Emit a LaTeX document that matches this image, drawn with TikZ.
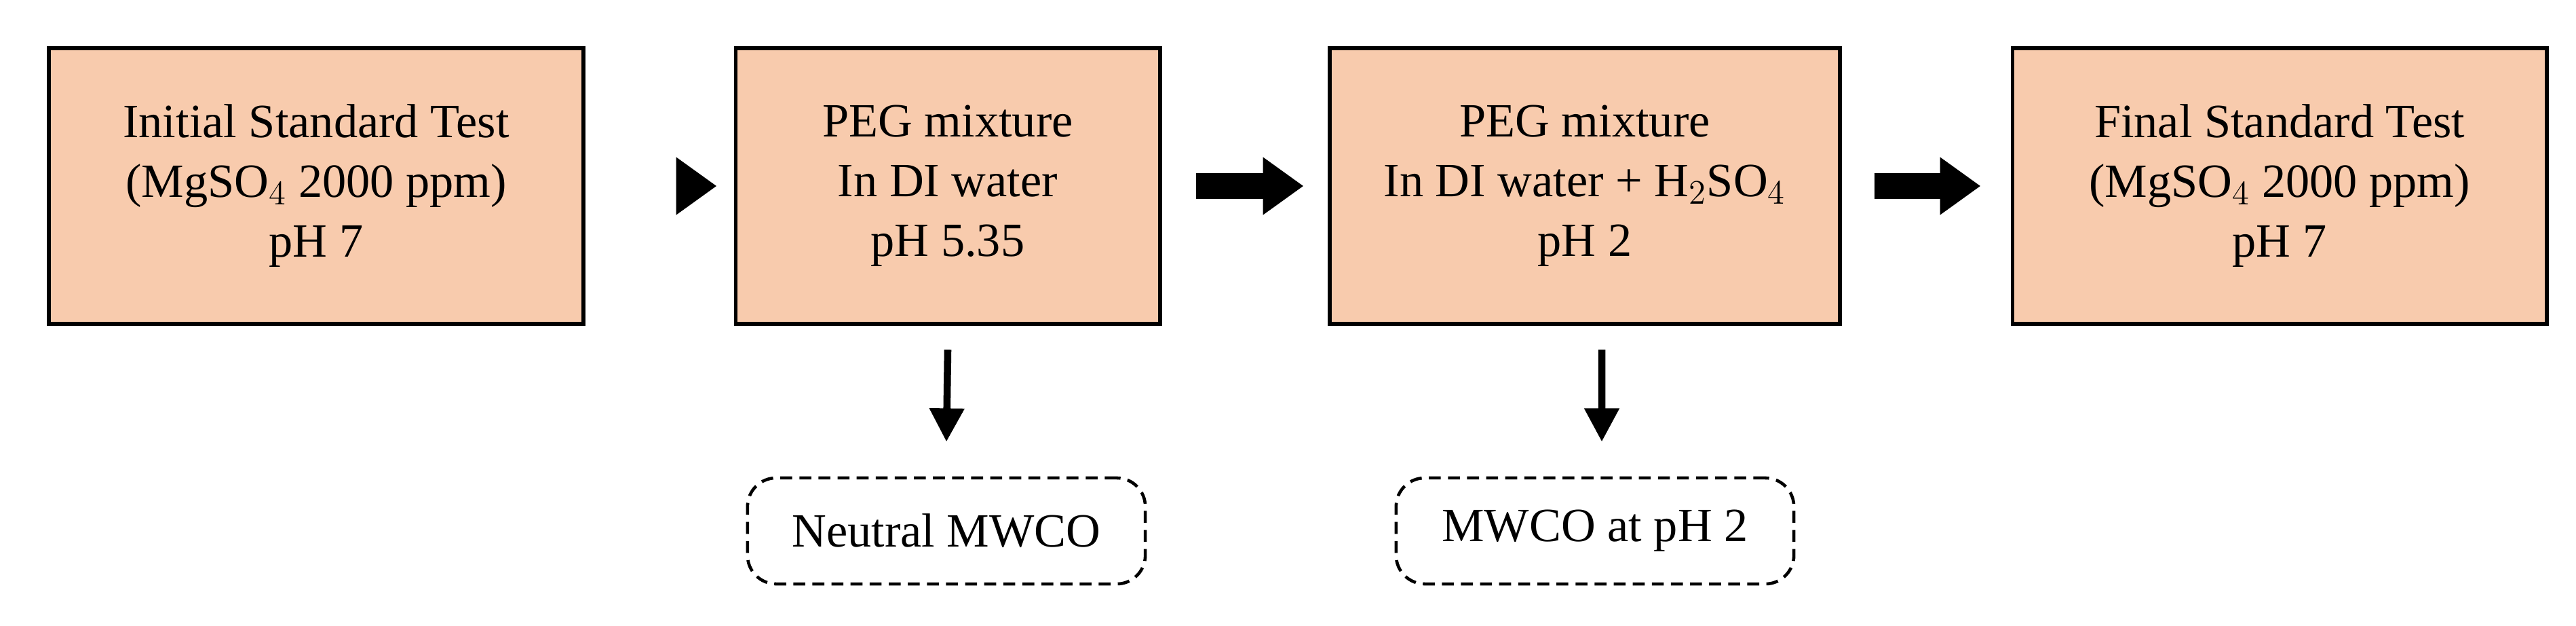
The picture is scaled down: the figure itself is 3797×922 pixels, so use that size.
\documentclass[tikz,border=0pt]{standalone}
\usepackage{fontspec}
\setmainfont{Liberation Serif}
\usetikzlibrary{arrows.meta}
\definecolor{peach}{HTML}{F8CBAD}
\begin{document}
\begin{tikzpicture}[x=0.01cm,y=-0.01cm,
  box/.style={draw=black,line width=1.6pt,fill=peach,inner sep=0,align=center,font=\fontsize{20}{25}\selectfont},
  dbox/.style={draw=black,line width=1.3pt,dashed,dash pattern=on 5pt off 3pt,rounded corners=12pt,inner sep=0,font=\fontsize{20}{25}\selectfont},
  fat/.style={line width=11pt,-{Triangle[length=17pt,width=23pt]}},
  thin/.style={line width=3pt,-{Triangle[length=14pt,width=14pt]}}]
\useasboundingbox (0,0) rectangle (3797,922);
\node[box,minimum width=787\pgfutilxscale cm,minimum width=7.87cm,minimum height=4.06cm] (b1) at (466,274) {Initial Standard Test\\(MgSO$_4$ 2000 ppm)\\pH 7};
\node[box,minimum width=6.25cm,minimum height=4.06cm] (b2) at (1397,274) {PEG mixture\\In DI water\\pH 5.35};
\node[box,minimum width=7.51cm,minimum height=4.06cm] (b3) at (2336,274) {PEG mixture\\In DI water + H$_2$SO$_4$\\pH 2};
\node[box,minimum width=7.87cm,minimum height=4.06cm] (b4) at (3360,274) {Final Standard Test\\(MgSO$_4$ 2000 ppm)\\pH 7};
\node[dbox,minimum width=5.86cm,minimum height=1.56cm] (d1) at (1395,782) {Neutral MWCO};
\node[dbox,minimum width=5.86cm,minimum height=1.56cm] (d2) at (2351,782) {MWCO at pH 2};
\draw[fat] ([xshift=1.4cm]b1.east) -- ([xshift=-0.25cm]b2.west);
\draw[fat] ([xshift=0.5cm]b2.east) -- ([xshift=-0.36cm]b3.west);
\draw[fat] ([xshift=0.48cm]b3.east) -- ([xshift=-0.44cm]b4.west);
\draw[thin] ([yshift=-0.35cm]b2.south) -- ([yshift=0.51cm]d1.north);
\draw[thin] ([yshift=-0.35cm,xshift=0.25cm]b3.south) -- ([yshift=0.51cm,xshift=0.1cm]d2.north);
\end{tikzpicture}
\end{document}
